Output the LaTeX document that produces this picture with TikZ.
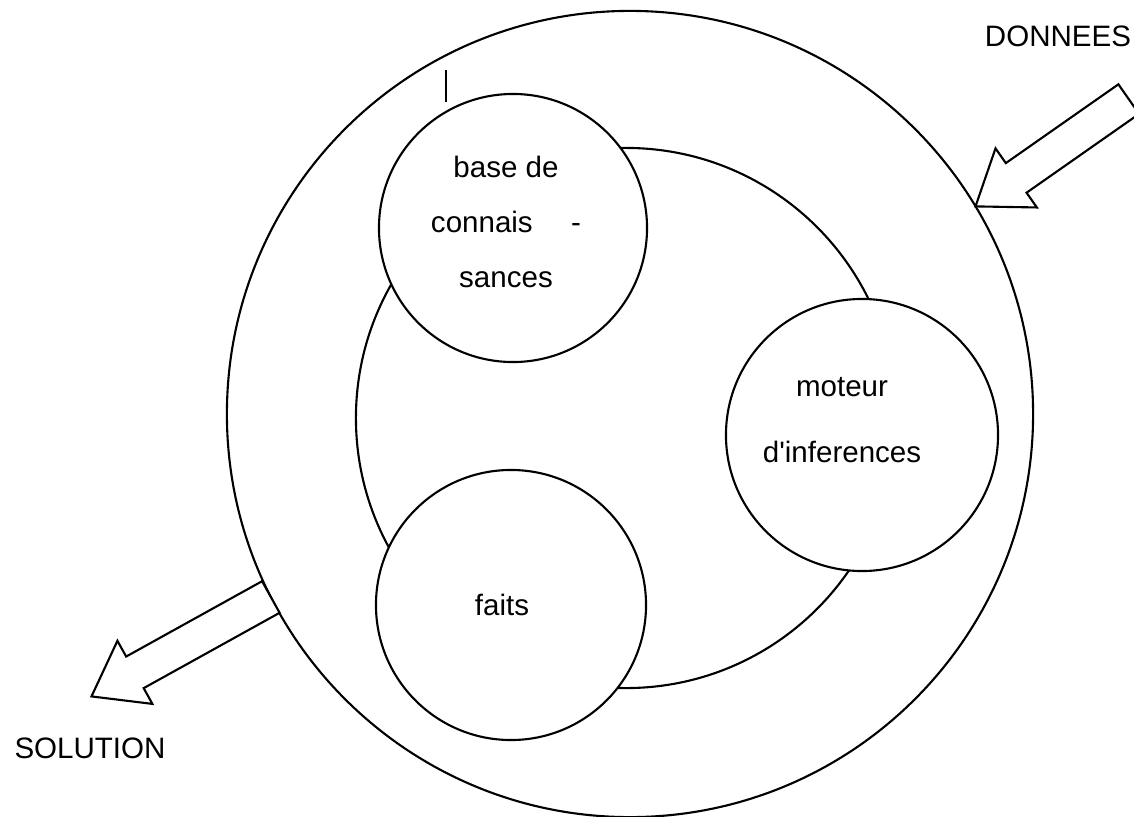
\documentclass[tikz,border=0pt]{standalone}
\usepackage{fontspec}
\setmainfont{Liberation Sans}
\usetikzlibrary{shapes.arrows}

\begin{document}
\begin{tikzpicture}[
    x=0.025cm, y=-0.025cm,
    ring/.style={draw, circle, line width=1.5pt, inner sep=0pt, outer sep=0pt},
    part/.style={ring, fill=white},
    lbl/.style={font=\fontsize{21}{39}\selectfont, align=center},
    bigarrow/.style={draw, fill=white, line width=1.5pt, single arrow, inner sep=0.425cm,
        single arrow head extend=0.45cm, single arrow tip angle=72, outer sep=0pt}
]
    \useasboundingbox (0,0) rectangle (1134,817);

    % system and the three parts
    \node[ring, minimum size=20.15cm] (outer) at (630,414) {};
    \node[ring, minimum size=13.5cm] (inner) at (626,418) {};
    \node[part, minimum size=6.7cm] (base) at (513,228) {};
    \node[part, minimum size=6.8cm] (moteur) at (862,435) {};
    \node[part, minimum size=6.75cm] (faits) at (511,605) {};

    \node[lbl] (baseTxt) at (506,222) {base de\\connais\hspace{1.3em}-\\sances};
    \node[lbl, font=\fontsize{21}{47}\selectfont] (moteurTxt) at (842,420) {moteur\\d\textquotesingle inferences};
    \node[lbl] (faitsTxt) at (502,605) {faits};

    % in and out
    \node[bigarrow, rotate=215, anchor=tip, minimum height=4.675cm] (donnees) at (outer.31) {};
    \node[bigarrow, rotate=209, anchor=tail, minimum height=5.125cm] (solution) at (outer.207) {};
    \node[lbl] (donTxt) at (1058,36) {DONNEES};
    \node[lbl] (solTxt) at (90,748) {SOLUTION};

    \draw[line width=1.5pt] (446,70) -- (446,102);
\end{tikzpicture}
\end{document}
